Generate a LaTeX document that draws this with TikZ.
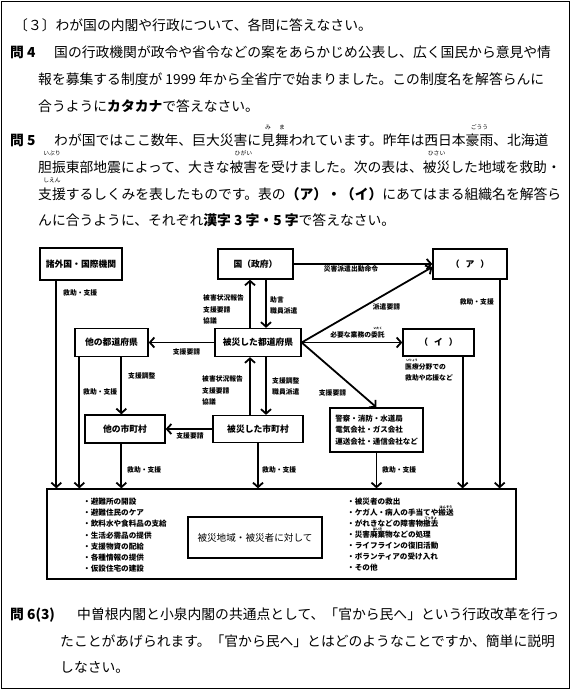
\documentclass[tikz,border=0pt]{standalone}
\usepackage{fontspec}
\setmainfont{Noto Sans CJK JP}
\usetikzlibrary{arrows.meta, positioning}
\newcommand{\rb}[3][1.2em]{\leavevmode\hbox{\ooalign{#2\cr\hidewidth\raisebox{#1}{\fontsize{0.42em}{0.5em}\selectfont #3}\hidewidth\cr}}}
\tikzset{
  txt/.style={inner sep=0pt, anchor=base west, font=\fontsize{13.8}{16}\selectfont},
  qno/.style={txt, font=\fontsize{13.8}{16}\selectfont\bfseries},
  orgbox/.style={rectangle, draw, line width=1.3pt, inner sep=0pt, font=\fontsize{8.8}{10}\selectfont\bfseries},
  lbl/.style={inner sep=0pt, align=left, font=\fontsize{6.8}{11.5}\selectfont\bfseries},
  lst/.style={inner sep=0pt, align=left, anchor=base west, font=\fontsize{7.6}{11.3}\selectfont\bfseries},
  arr/.style={line width=1.8pt, -{Straight Barb[length=4.5pt,width=10pt]}},
}
\begin{document}
\begin{tikzpicture}[x=1pt, y=-1pt]
\useasboundingbox (0,0) rectangle (571,690);
\draw[line width=1pt] (1.5,1.5) rectangle (569.5,688.5);

% question text
\node[txt] (head) at (14,31) {〔３〕わが国の内閣や行政について、各問に答えなさい。};
\node[qno] (q4) at (10,58) {問 4};
\node[txt] (q4a) at (54,58) {国の行政機関が政令や省令などの案をあらかじめ公表し、広く国民から意見や情};
\node[txt] (q4b) at (38,84.5) {報を募集する制度が 1999 年から全省庁で始まりました。この制度名を解答らんに};
\node[txt] (q4c) at (38,111) {合うように{\bfseries カタカナ}で答えなさい。};
\node[qno] (q5) at (10,146) {問 5};
\node[txt] (q5a) at (54,146) {わが国ではここ数年、巨大災害に\rb{見}{み}\rb{舞}{ま}われています。昨年は西日本\rb{豪雨}{ごうう}、北海道};
\node[txt] (q5b) at (38,172.5) {\rb{胆振}{いぶり}東部地震によって、大きな\rb{被害}{ひがい}を受けました。次の表は、\rb{被災}{ひさい}した地域を救助・};
\node[txt] (q5c) at (38,199) {\rb{支援}{しえん}するしくみを表したものです。表の{\bfseries （ア）・（イ）}にあてはまる組織名を解答ら};
\node[txt] (q5d) at (38,225.5) {んに合うように、それぞれ{\bfseries 漢字 3 字・5 字}で答えなさい。};

% organisations
\node[orgbox, minimum width=82pt, minimum height=32pt] (fgn) at (81,264) {諸外国・国際機関};
\node[orgbox, minimum width=75pt, minimum height=30pt] (govt) at (255.5,264) {国（政府）};
\node[orgbox, minimum width=74pt, minimum height=30pt] (abox) at (470,264) {（\hspace{6pt}ア\hspace{6pt}）};
\node[orgbox, minimum width=73pt, minimum height=28pt] (opref) at (111.5,342.5) {他の都道府県};
\node[orgbox, minimum width=86pt, minimum height=28pt] (pref) at (258,342.5) {被災した都道府県};
\node[orgbox, minimum width=71pt, minimum height=27pt] (ibox) at (438.5,342.5) {（\hspace{6pt}イ\hspace{6pt}）};
\node[orgbox, minimum width=80pt, minimum height=28pt] (ocity) at (125,429) {他の市町村};
\node[orgbox, minimum width=90pt, minimum height=27pt] (city) at (258,429) {被災した市町村};
\node[orgbox, minimum width=93pt, minimum height=44pt, align=left, font=\fontsize{7.5}{11.5}\selectfont\bfseries] (infra) at (376.5,430) {警察・消防・水道局\\電気会社・ガス会社\\運送会社・通信会社など};
\node[orgbox, minimum width=469pt, minimum height=90pt] (area) at (281.5,534) {};
\node[orgbox, minimum width=134pt, minimum height=41pt, font=\fontsize{9.6}{11}\selectfont] (target) at (255,537.5) {被災地域・被災者に対して};

% lists in the bottom box (base = last line)
\node[lst] (leftlist) at (83,571.9) {・避難所の開設\\・避難住民のケア\\・飲料水や食料品の支給\\・生活必需品の提供\\・支援物資の配給\\・各種情報の提供\\・仮設住宅の建設};
\node[lst, font=\fontsize{7.6}{11}\selectfont\bfseries] (rightlist) at (347,570.9) {・被災者の救出\\・ケガ人・病人の手当てや\rb[0.95em]{搬送}{はんそう}\\・がれきなどの障害物\rb[0.95em]{撤去}{てっきょ}\\・災害\rb[0.95em]{廃棄}{はいき}物などの処理\\・ライフラインの復旧活動\\・ボランティアの受け入れ\\・その他};

% top row
\draw[arr] (govt.east) -- (abox.west);
\node[lbl, anchor=base] (ordlbl) at (351,271.6) {災害派遣出動命令};
\draw[arr] ([xshift=17pt]fgn.south west) -- ([xshift=17pt]fgn.south west |- area.north);
\node[lbl, anchor=base west] (fgnlbl) at (63,295.6) {救助・支援};
\draw[arr] ([xshift=-8pt]abox.south east) -- ([xshift=-8pt]abox.south east |- area.north);
\node[lbl, anchor=base east] (albl) at (494,304.6) {救助・支援};

% prefecture level
\draw[arr] ([xshift=-8pt]pref.north) -- ([xshift=-8pt]pref.north |- govt.south);
\draw[arr] ([xshift=8pt]pref.north |- govt.south) -- ([xshift=8pt]pref.north);
\node[lbl, anchor=base west] (uplbl) at (203,323.6) {被害状況報告\\支援要請\\協議};
\node[lbl, anchor=base west] (dnlbl) at (270,313.6) {助言\\職員派遣};
\draw[arr] (pref.west) -- (opref.east);
\node[lbl, anchor=base] (preqlbl) at (186.5,354.6) {支援要請};
\draw[arr] (pref.east) -- ([yshift=-3pt]abox.west);
\node[lbl, anchor=base] (askalbl) at (386.5,309.6) {派遣要請};
\draw[arr] (pref.east) -- (pref.east -| ibox.west);
\node[lbl, anchor=base] (itaku) at (357.5,337.6) {必要な業務の\rb{委託}{いたく}};
\draw[arr] (pref.east) -- (infra.north);
\node[lbl, anchor=base] (askilbl) at (332.5,395.6) {支援要請};
\draw[arr] ([xshift=-12pt]ibox.south east) -- ([xshift=-12pt]ibox.south east |- area.north);
\node[lbl, anchor=base west, font=\fontsize{6.8}{11}\selectfont\bfseries] (medlbl) at (405,380.6) {\rb{医療}{いりょう}分野での\\救助や応援など};

% other prefectures
\draw[arr] ([xshift=5pt]opref.south west) -- ([xshift=5pt]opref.south west |- area.north);
\node[lbl, anchor=base west] (oprefaid) at (83,394.6) {救助・支援};
\draw[arr] ([xshift=47pt]opref.south west) -- ([xshift=47pt]opref.south west |- ocity.north);
\node[lbl, anchor=base west] (oprefadj) at (128,378.6) {支援調整};

% municipality level
\draw[arr] ([xshift=-8pt]city.north) -- ([xshift=-8pt]city.north |- pref.south);
\draw[arr] ([xshift=8pt]city.north |- pref.south) -- ([xshift=8pt]city.north);
\node[lbl, anchor=base west] (uplbl2) at (202,404.6) {被害状況報告\\支援要請\\協議};
\node[lbl, anchor=base west] (dnlbl2) at (272,394.6) {支援調整\\職員派遣};
\draw[arr] (city.west) -- (ocity.east);
\node[lbl, anchor=base] (creqlbl) at (190,438.6) {支援要請};

% down to the affected area
\draw[arr] ([xshift=47pt]opref.south west |- ocity.south) -- ([xshift=47pt]opref.south west |- area.north);
\node[lbl, anchor=base west] (ocityaid) at (127,472.6) {救助・支援};
\draw[arr] (city.south) -- (city.south |- area.north);
\node[lbl, anchor=base west] (cityaid) at (262,472.6) {救助・支援};
\draw[arr] (infra.south) -- (infra.south |- area.north);
\node[lbl, anchor=base west] (infraaid) at (382,472.6) {救助・支援};

% question 6
\node[qno] (q6) at (10,619) {問 6(3)};
\node[txt] (q6a) at (77,619) {中曽根内閣と小泉内閣の共通点として、「官から民へ」という行政改革を行っ};
\node[txt] (q6b) at (60,646) {たことがあげられます。「官から民へ」とはどのようなことですか、簡単に説明};
\node[txt] (q6c) at (60,672) {しなさい。};
\end{tikzpicture}
\end{document}
